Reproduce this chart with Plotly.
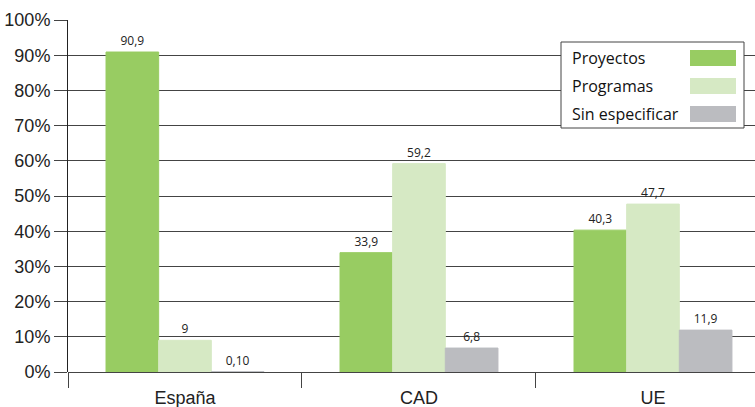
import plotly.graph_objects as go

categories = ["España", "CAD", "UE"]
series_names = ["Proyectos", "Programas", "Sin especificar"]
proyectos = [90.9, 33.9, 40.3]
programas = [9, 59.2, 47.7]
sin_especificar = [0.1, 6.8, 11.9]
labels_proyectos = ["90,9", "33,9", "40,3"]
labels_programas = ["9", "59,2", "47,7"]
labels_sin = ["0,10", "6,8", "11,9"]
y_ticks = [0, 10, 20, 30, 40, 50, 60, 70, 80, 90, 100]
y_tick_labels = [f"{v}%" for v in y_ticks]

colors = ["#98cc62", "#d6e9c4", "#bbbcc0"]
values = [proyectos, programas, sin_especificar]
labels = [labels_proyectos, labels_programas, labels_sin]

AXFONT = "Liberation Sans, Arial"

fig = go.Figure()
for name, vals, lab, col in zip(series_names, values, labels, colors):
    fig.add_trace(go.Bar(
        x=categories, y=vals, name=name, text=lab,
        textposition="outside", cliponaxis=False,
        textfont=dict(family="Open Sans", size=12, color="#222222"),
        marker=dict(color=col, line=dict(color=col, width=1)),
        showlegend=False,
    ))

fig.update_layout(
    width=755, height=407,
    margin=dict(l=68, r=0, t=20, b=35, autoexpand=False),
    paper_bgcolor="white", plot_bgcolor="white",
    barmode="group", bargap=0.325, bargroupgap=0,
    showlegend=False,
    font=dict(family=AXFONT, size=18, color="#222222"),
)
fig.update_xaxes(
    type="category", range=[-0.5, 2.436], automargin=False,
    tickson="boundaries", ticks="outside", ticklen=15, tickcolor="#444444",
    ticklabelstandoff=13,
    showline=False, showgrid=False,
    tickfont=dict(family=AXFONT, size=18, color="#222222"),
)
fig.update_yaxes(
    range=[0, 100], tickvals=y_ticks, ticktext=y_tick_labels, automargin=False,
    showgrid=True, gridcolor="#444444", gridwidth=1,
    zeroline=True, zerolinecolor="#444444", zerolinewidth=1,
    ticks="outside", ticklen=13, tickcolor="#444444",
    showline=True, linecolor="#222222", linewidth=1,
    tickfont=dict(family=AXFONT, size=18, color="#222222"),
)

# manual legend (swatches to the right of the text, as in the reference)
fig.add_shape(type="rect", xref="paper", yref="paper",
              x0=(561 - 68) / 687, x1=(744 - 68) / 687,
              y0=(372 - 128) / 352, y1=(372 - 42) / 352,
              line=dict(color="#444444", width=1), fillcolor="white", layer="above")
for i, (name, col) in enumerate(zip(series_names, colors)):
    yc = 58 + i * 28
    fig.add_shape(type="rect", xref="paper", yref="paper",
                  x0=(690 - 68) / 687, x1=(736 - 68) / 687,
                  y0=(372 - (yc + 8)) / 352, y1=(372 - (yc - 8)) / 352,
                  line=dict(width=0), fillcolor=col, layer="above")
    fig.add_annotation(xref="paper", yref="paper",
                       x=(570 - 68) / 687, y=(372 - yc) / 352,
                       xanchor="left", yanchor="middle", showarrow=False,
                       text=name,
                       font=dict(family="Open Sans", size=16, color="#111111"))

fig.write_html("out.html", config={"displayModeBar": False},
               post_script="document.body.style.margin='0px';document.body.style.overflow='hidden';")
